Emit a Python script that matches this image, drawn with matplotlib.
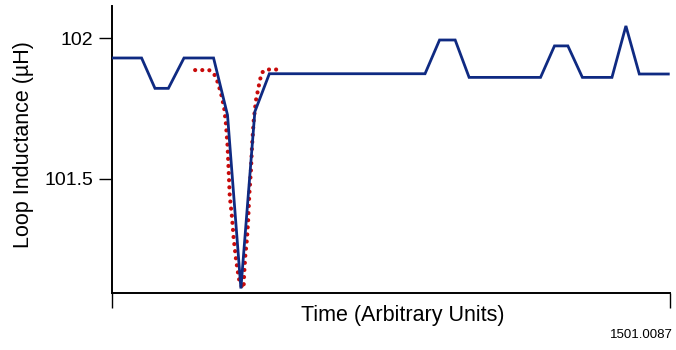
import matplotlib
matplotlib.use('Agg')
import matplotlib.pyplot as plt

plt.rcParams['font.family'] = ['Liberation Sans', 'DejaVu Sans']

# measured loop inductance (blue trace)
t_meas = [0, 5.3, 7.7, 10.1, 12.9, 18.2, 20.7, 23.1, 25.6, 28.2, 56.1, 58.7,
          61.5, 64.0, 76.8, 79.3, 81.7, 84.3, 89.6, 92.1, 94.5, 99.7]
L_meas = [101.93, 101.93, 101.822, 101.822, 101.93, 101.93, 101.727, 101.11,
          101.739, 101.874, 101.874, 101.994, 101.994, 101.861, 101.861,
          101.973, 101.973, 101.861, 101.861, 102.044, 101.873, 101.873]

# fitted dip (red dotted trace)
t_fit = [14.9, 17.4, 18.3, 19.0, 19.6, 20.1, 20.4, 20.7, 20.9, 21.1, 21.5,
         21.8, 22.2, 22.5, 22.8, 23.4, 23.6, 23.7, 23.9, 24.2, 24.4, 24.6,
         24.9, 25.1, 25.4, 25.8, 26.3, 26.8, 27.6, 30.3]
L_fit = [101.887, 101.887, 101.873, 101.841, 101.798, 101.752, 101.699,
         101.620, 101.531, 101.439, 101.364, 101.289, 101.218, 101.175,
         101.140, 101.110, 101.122, 101.168, 101.229, 101.289, 101.353,
         101.442, 101.531, 101.620, 101.709, 101.780, 101.830, 101.877,
         101.889, 101.889]

fig = plt.figure(figsize=(6.76, 3.5), dpi=100)
ax = fig.add_axes([0.1657, 0.1629, 0.8254, 0.82])

ax.plot(t_meas, L_meas, color='#0f2a82', lw=2.0, solid_joinstyle='miter', zorder=3)
ax.plot(t_fit, L_fit, color='#c80a0a', lw=3.0, dashes=(0.01, 1.7),
        dash_capstyle='round', zorder=2)

ax.set_xlim(0, 100)
ax.set_ylim(101.094, 102.115)

for s in ['top', 'right']:
    ax.spines[s].set_visible(False)
for s in ['left', 'bottom']:
    ax.spines[s].set_linewidth(1.4)
    ax.spines[s].set_color('black')

ax.set_yticks([101.5, 102])
ax.set_yticklabels(['101.5', '102'], fontsize=14)
ax.tick_params(axis='y', direction='out', length=9.5, width=1.0, pad=4)
ax.set_xticks([0, 100])
ax.set_xticklabels(['', ''])
ax.tick_params(axis='x', direction='out', length=10.5, width=1.0)

fig.text(24 / 676, 1 - 145 / 350, 'Loop Inductance (µH)', rotation=90,
         ha='center', va='center', fontsize=15.5)
fig.text(403 / 676, 1 - 315 / 350, 'Time (Arbitrary Units)',
         ha='center', va='center', fontsize=15.5)
fig.text(673 / 676, 1 - 335 / 350, '1501.0087', ha='right', va='center',
         fontsize=9.5)

fig.savefig('out.png', dpi=100)
